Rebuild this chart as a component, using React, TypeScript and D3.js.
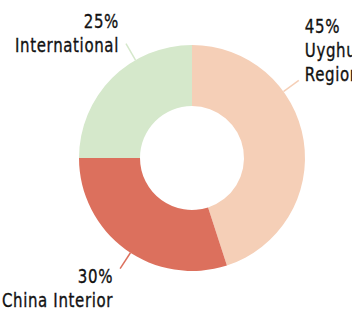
import React from 'react';
import * as d3 from 'd3';

const categories = ['Uyghur Region', 'China Interior', 'International'];
const shares = [45, 30, 25];
const colors = ['#f5cfb7', '#dc705d', '#d5e8cb'];
// leader line angle (degrees clockwise from top) and label text lines
const labelAngles = [54, 213, 330];
const labelLines = [['45%', 'Uyghur', 'Region'], ['30%', 'China Interior'], ['25%', 'International']];

const width = 352;
const height = 311;
const cx = 192;
const cy = 158;
const outerR = 113;
const innerR = 52;

export default function App() {
  const pie = d3.pie<number>().value(d => d).sort(null);
  const arcs = pie(shares);
  const arc = d3.arc<d3.PieArcDatum<number>>().innerRadius(innerR).outerRadius(outerR);

  const toXY = (deg: number, r: number) => {
    const a = (deg * Math.PI) / 180;
    return [Math.sin(a) * r, -Math.cos(a) * r];
  };

  // offset of first baseline from the leader line end
  const firstLineOffset = [-47, 14, -16];

  return (
    <svg width={width} height={height} style={{ position: 'absolute', left: 0, top: 0 }}>
      <g transform={`translate(${cx},${cy})`}>
        {arcs.map((a, i) => (
          <path key={categories[i]} d={arc(a) || ''} fill={colors[i]} />
        ))}
        {arcs.map((a, i) => {
          const deg = labelAngles[i];
          const [x1, y1] = toXY(deg, outerR);
          const [x2, y2] = toXY(deg, outerR + 19);
          const right = Math.sin((deg * Math.PI) / 180) > 0;
          const tx = right ? x2 + 6 : x2 - 7;
          const ty = y2 + firstLineOffset[i];
          return (
            <g key={'l' + i}>
              <line x1={x1} y1={y1} x2={x2} y2={y2} stroke={colors[i]} strokeWidth={1.5} />
              <g transform={`translate(${tx},${ty}) scale(0.79,1)`}>
                <text
                  fontFamily="'DejaVu Sans', sans-serif"
                  fontSize={19}
                  letterSpacing={0.8}
                  fill="#111"
                  stroke="#111"
                  strokeWidth={0.35}
                  textAnchor={right ? 'start' : 'end'}
                >
                  {labelLines[i].map((t, j) => (
                    <tspan key={j} x={0} y={j * 24}>{t}</tspan>
                  ))}
                </text>
              </g>
            </g>
          );
        })}
      </g>
    </svg>
  );
}
